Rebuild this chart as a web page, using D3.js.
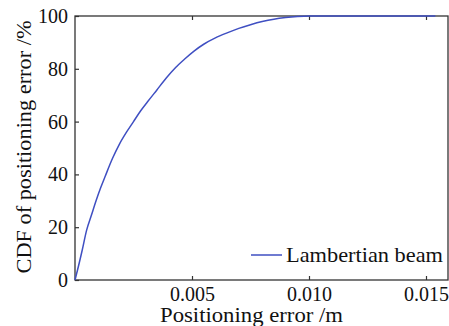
<!DOCTYPE html>
<html>
<head>
<meta charset="utf-8">
<script src="https://cdn.jsdelivr.net/npm/d3@7"></script>
<style>
  html, body { margin: 0; padding: 0; background: #fff; }
  svg { display: block; }
</style>
</head>
<body>
<svg id="chart" width="449" height="326" font-family="Liberation Serif"></svg>
<script>
// Positioning error (m) and its cumulative distribution (%)
const errorM = [0, 0.0001, 0.0003, 0.0005, 0.0007, 0.0009, 0.0011, 0.0013, 0.0016, 0.0019,
  0.0022, 0.0025, 0.0028, 0.0031, 0.0035, 0.0039, 0.0043, 0.0047, 0.0051, 0.0055,
  0.0060, 0.0065, 0.0070, 0.0075, 0.0080, 0.0085, 0.0090, 0.0095, 0.0100, 0.0154];
const cdfPct = [0, 3.5, 11, 19, 24.5, 30, 35, 39.5, 46, 51.5,
  56, 60, 64, 67.5, 72, 76.5, 80.5, 83.8, 86.8, 89.3,
  91.7, 93.6, 95.3, 96.7, 97.9, 98.8, 99.4, 99.8, 100, 100];
const xTicks = [0.005, 0.010, 0.015];
const yTicks = [0, 20, 40, 60, 80, 100];
const seriesName = "Lambertian beam";
const xTitle = "Positioning error /m";
const yTitle = "CDF of positioning error /%";

const serif = '"Liberation Serif"';
const svg = d3.select("#chart");
const mLeft = 75, mRight = 448, mTop = 16, mBottom = 280;

const x = d3.scaleLinear().domain([0, 0.016]).range([mLeft, mLeft + 0.016 * 23400]);
const y = d3.scaleLinear().domain([0, 100]).range([mBottom, mTop]);

const axisColor = "#333";
const lineColor = "#3f4fc2";
const textColor = "#111";

// frame
svg.append("rect")
  .attr("x", mLeft).attr("y", mTop)
  .attr("width", mRight - mLeft).attr("height", mBottom - mTop)
  .attr("fill", "none").attr("stroke", axisColor).attr("stroke-width", 1.3);

// bottom axis, inward ticks
const gx = svg.append("g").attr("transform", `translate(0,${mBottom})`)
  .call(d3.axisBottom(x).tickValues(xTicks).tickFormat(d3.format(".3f"))
    .tickSizeInner(-4).tickSizeOuter(0).tickPadding(7));
gx.attr("font-family", null).style("font-family", serif);
gx.select(".domain").remove();
gx.selectAll("line").attr("stroke", axisColor).attr("stroke-width", 1.2);
gx.selectAll("text").style("font-family", serif).style("font-size", "20px").attr("fill", textColor);

// top mirrored ticks
const gt = svg.append("g").attr("transform", `translate(0,${mTop})`)
  .call(d3.axisTop(x).tickValues(xTicks).tickFormat("").tickSizeInner(-4).tickSizeOuter(0));
gt.select(".domain").remove();
gt.selectAll("line").attr("stroke", axisColor).attr("stroke-width", 1.2);

// left axis, inward ticks
const gy = svg.append("g").attr("transform", `translate(${mLeft},0)`)
  .call(d3.axisLeft(y).tickValues(yTicks).tickSizeInner(-4).tickSizeOuter(0).tickPadding(7));
gy.attr("font-family", null).style("font-family", serif);
gy.select(".domain").remove();
gy.selectAll("line").attr("stroke", axisColor).attr("stroke-width", 1.2);
gy.selectAll("text").style("font-family", serif).style("font-size", "20px").attr("fill", textColor);

// CDF curve
const pts = errorM.map((e, i) => [e, cdfPct[i]]);
svg.append("path")
  .datum(pts)
  .attr("fill", "none")
  .attr("stroke", lineColor)
  .attr("stroke-width", 1.5)
  .attr("d", d3.line().x(d => x(d[0])).y(d => y(d[1])).curve(d3.curveMonotoneX));

// legend
svg.append("line")
  .attr("x1", 251).attr("x2", 282).attr("y1", 255).attr("y2", 255)
  .attr("stroke", lineColor).attr("stroke-width", 1.5);
svg.append("text")
  .attr("x", 286).attr("y", 262)
  .style("font-family", serif).style("font-size", "21px").attr("fill", textColor)
  .attr("textLength", 157).attr("lengthAdjust", "spacingAndGlyphs")
  .text(seriesName);

// axis titles
svg.append("text")
  .attr("x", 251.5).attr("y", 322)
  .attr("text-anchor", "middle")
  .style("font-family", serif).style("font-size", "21px").attr("fill", textColor)
  .attr("textLength", 183).attr("lengthAdjust", "spacingAndGlyphs")
  .text(xTitle);

svg.append("text")
  .attr("transform", "translate(31,147) rotate(-90)")
  .attr("text-anchor", "middle")
  .style("font-family", serif).style("font-size", "21px").attr("fill", textColor)
  .attr("textLength", 253).attr("lengthAdjust", "spacingAndGlyphs")
  .text(yTitle);
</script>
</body>
</html>
